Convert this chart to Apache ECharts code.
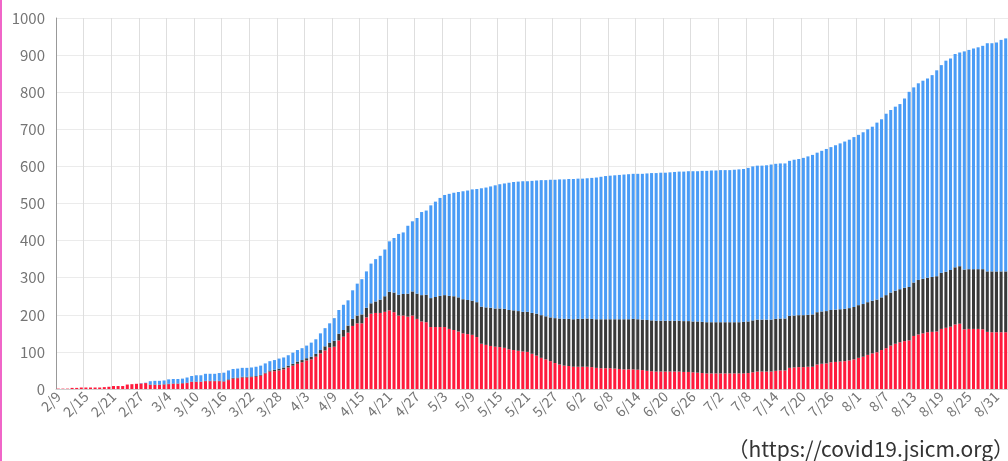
<!DOCTYPE html>
<html>
<head>
<meta charset="utf-8">
<script src="https://cdn.jsdelivr.net/npm/echarts@6/dist/echarts.min.js"></script>
<style>
html,body{margin:0;padding:0;background:#fff;}
#chart{position:absolute;left:0;top:0;width:1008px;height:461px;}
#edge{position:absolute;left:0;top:0;width:2px;height:461px;background:#f066c8;}
</style>
</head>
<body>
<div id="chart"></div>
<div id="edge"></div>
<script>
const categories = [
"2/9","2/10","2/11","2/12","2/13","2/14","2/15","2/16","2/17","2/18","2/19","2/20","2/21","2/22","2/23","2/24","2/25","2/26","2/27","2/28","2/29",
"3/1","3/2","3/3","3/4","3/5","3/6","3/7","3/8","3/9","3/10","3/11","3/12","3/13","3/14","3/15","3/16","3/17","3/18","3/19","3/20","3/21","3/22","3/23","3/24","3/25","3/26","3/27","3/28","3/29","3/30","3/31",
"4/1","4/2","4/3","4/4","4/5","4/6","4/7","4/8","4/9","4/10","4/11","4/12","4/13","4/14","4/15","4/16","4/17","4/18","4/19","4/20","4/21","4/22","4/23","4/24","4/25","4/26","4/27","4/28","4/29","4/30",
"5/1","5/2","5/3","5/4","5/5","5/6","5/7","5/8","5/9","5/10","5/11","5/12","5/13","5/14","5/15","5/16","5/17","5/18","5/19","5/20","5/21","5/22","5/23","5/24","5/25","5/26","5/27","5/28","5/29","5/30","5/31",
"6/1","6/2","6/3","6/4","6/5","6/6","6/7","6/8","6/9","6/10","6/11","6/12","6/13","6/14","6/15","6/16","6/17","6/18","6/19","6/20","6/21","6/22","6/23","6/24","6/25","6/26","6/27","6/28","6/29","6/30",
"7/1","7/2","7/3","7/4","7/5","7/6","7/7","7/8","7/9","7/10","7/11","7/12","7/13","7/14","7/15","7/16","7/17","7/18","7/19","7/20","7/21","7/22","7/23","7/24","7/25","7/26","7/27","7/28","7/29","7/30","7/31",
"8/1","8/2","8/3","8/4","8/5","8/6","8/7","8/8","8/9","8/10","8/11","8/12","8/13","8/14","8/15","8/16","8/17","8/18","8/19","8/20","8/21","8/22","8/23","8/24","8/25","8/26","8/27","8/28","8/29","8/30","8/31",
"9/1","9/2"
];

// red: currently on ventilator
const onVentilator = [
1,1,1,3,3,4,4,4,4,4,
5,6,8,8,8,12,13,14,15,16,
11,11,11,12,13,14,14,15,16,19,
19,19,21,21,21,21,20,24,28,29,
31,31,32,33,36,42,47,48,50,53,
58,63,68,72,77,80,87,96,104,112,
114,131,141,152,170,177,177,193,203,205,
205,208,212,207,198,198,195,198,189,182,
180,167,167,167,167,162,159,155,150,148,
146,140,122,119,116,114,113,111,107,105,
103,101,100,95,90,84,80,75,70,66,
63,62,60,60,60,60,59,57,56,56,
56,55,54,53,53,53,52,51,49,48,
47,47,47,47,47,47,46,46,45,44,
43,42,42,42,42,42,42,42,42,42,
43,45,47,47,47,47,49,50,50,57,
58,59,59,60,60,66,68,69,72,73,
74,75,77,80,84,87,92,96,99,105,
110,117,122,126,129,131,143,147,150,153,
154,155,162,165,168,174,176,161,162,162,
162,161,154,153,153,153,153
];

// black: deaths
const deaths = [
0,0,0,0,0,0,0,0,0,0,
0,0,0,0,0,0,0,0,0,0,
1,1,1,1,1,1,1,1,1,1,
1,1,1,1,1,1,1,2,2,2,
2,2,2,2,2,2,3,4,5,5,
5,5,6,6,6,7,8,9,11,13,
16,18,18,19,19,21,24,26,28,31,
36,42,50,53,56,58,62,65,68,71,
74,78,81,84,86,89,91,92,92,92,
92,94,100,101,103,103,104,105,106,107,
107,107,108,110,113,115,116,118,121,124,
126,127,128,129,129,130,130,131,132,132,
132,133,134,135,135,136,136,136,137,137,
137,137,137,137,137,137,137,137,137,138,
138,138,138,138,138,138,138,138,138,139,
139,140,140,140,140,140,140,140,140,140,
140,140,140,140,141,141,141,141,141,141,
141,141,141,141,142,142,142,142,142,142,
143,143,143,143,144,144,144,147,147,147,
148,149,151,151,153,154,155,161,161,161,
161,162,163,164,164,164,164
];

// blue: weaned
const weaned = [
0,0,0,0,0,0,0,0,0,0,
0,0,0,0,0,0,0,0,1,1,
9,10,10,10,12,12,12,12,14,15,
17,17,19,19,19,21,23,24,24,24,
24,24,24,25,25,25,25,26,27,27,
28,30,31,32,34,38,39,45,49,52,
61,64,68,68,77,86,95,98,107,114,
118,126,136,147,164,166,183,189,204,224,
227,250,257,264,270,275,279,284,291,295,
300,305,319,323,327,332,335,338,343,346,
349,352,352,356,359,364,367,371,373,375,
376,377,378,378,378,378,380,382,384,386,
387,388,389,390,391,391,392,393,395,397,
398,399,399,400,401,402,403,404,405,405,
407,408,409,409,410,410,410,411,412,412,
414,415,415,415,416,418,418,418,418,418,
420,421,424,427,430,430,433,437,439,443,
447,451,454,458,459,463,466,469,477,480,
489,492,496,499,510,526,526,530,534,537,
544,555,560,569,570,575,576,588,591,595,
598,602,615,615,617,624,628
];

const yTicks = {min: 0, max: 1000, interval: 100};
const sourceText = "（https://covid19.jsicm.org）";

const chart = echarts.init(document.getElementById('chart'), null, {renderer: 'canvas'});
const font = "'Noto Sans CJK JP', 'Noto Sans', sans-serif";
const barCommon = {type: 'bar', stack: 'total', barCategoryGap: '34%', animation: false};

chart.setOption({
  animation: false,
  backgroundColor: '#ffffff',
  grid: {left: 56, top: 18, width: 952.5, height: 371, containLabel: false},
  xAxis: {
    type: 'category',
    data: categories,
    boundaryGap: true,
    axisLine: {show: true, lineStyle: {color: '#cfcfcf'}},
    axisTick: {show: false},
    axisLabel: {interval: 5, rotate: 45, color: '#757575', fontSize: 14, margin: 5, fontFamily: font},
    splitLine: {show: true, interval: 5, lineStyle: {color: '#dedede', width: 1}}
  },
  yAxis: {
    type: 'value',
    min: yTicks.min, max: yTicks.max, interval: yTicks.interval,
    axisLine: {show: true, lineStyle: {color: '#999999'}},
    axisTick: {show: false},
    axisLabel: {color: '#757575', fontSize: 15, margin: 11, fontFamily: font, formatter: function (v) { return String(v); }},
    splitLine: {show: true, lineStyle: {color: '#ebebeb', width: 1}}
  },
  series: [
    Object.assign({name: '装着中', data: onVentilator, itemStyle: {color: '#ff1a3c'}}, barCommon),
    Object.assign({name: '死亡', data: deaths, itemStyle: {color: '#393939'}}, barCommon),
    Object.assign({name: '離脱', data: weaned, itemStyle: {color: '#4a9cf6'}}, barCommon)
  ],
  graphic: [{
    type: 'text',
    right: -6,
    bottom: 1,
    style: {text: sourceText, font: "21px 'Noto Sans CJK JP', sans-serif", fill: '#333333'}
  }]
});
</script>
</body>
</html>
